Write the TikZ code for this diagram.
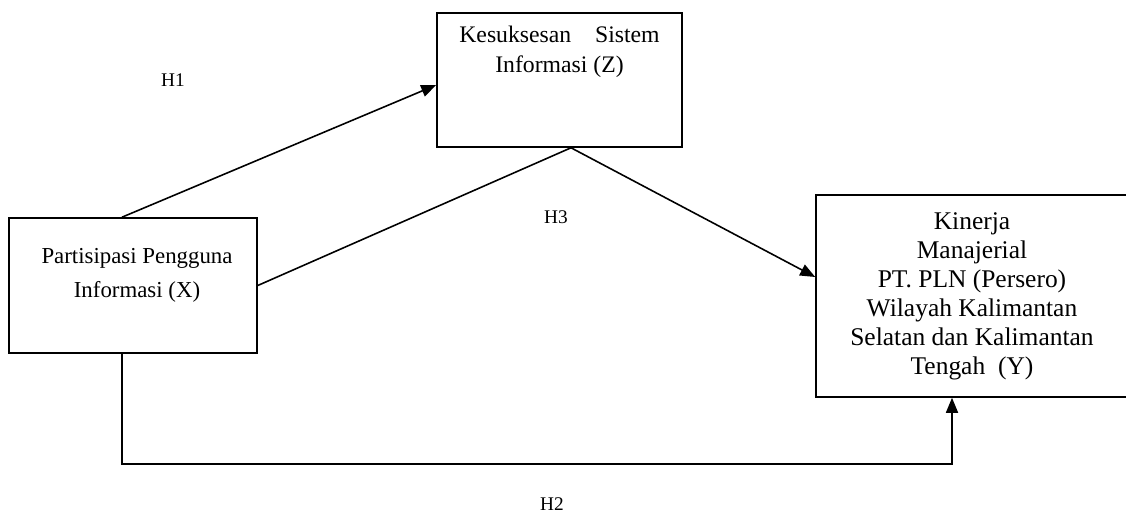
\documentclass[tikz,border=0pt]{standalone}
\usepackage{fontspec}
\setmainfont{Liberation Serif}
\usetikzlibrary{arrows.meta}
\tikzset{
  box/.style={draw, line width=0.9pt, inner sep=0pt},
  txt/.style={align=center, font=\fontsize{13}{17}\selectfont},
  hlab/.style={font=\fontsize{11}{13}\selectfont},
  link/.style={line width=0.9pt},
  arr/.style={link, -{Triangle[length=0.3cm,width=0.24cm]}}
}
\begin{document}
\begin{tikzpicture}
   \useasboundingbox (0,0) rectangle (22.52,10.28);
   \node[box, minimum width=4.9cm, minimum height=2.68cm] (Z) at (11.19,8.68) {};
   \node[box, minimum width=4.96cm, minimum height=2.7cm] (X) at (2.66,4.57) {};
   \node[box, txt, font=\fontsize{14.5}{16.5}\selectfont, minimum width=6.24cm, minimum height=4.04cm] (Y) at (19.44,4.36)
      {Kinerja\\ Manajerial\\ PT. PLN (Persero)\\ Wilayah Kalimantan\\ Selatan dan Kalimantan\\ Tengah\ \ (Y)};

   \node[txt, font=\fontsize{13.5}{17}\selectfont] (Zt) at ([yshift=-0.8cm]Z.north) {Kesuksesan\ \ \ \ Sistem\\ Informasi (Z)};
   \node[txt] (Xt) at ([xshift=0.08cm,yshift=-1.16cm]X.north) {Partisipasi Pengguna\\[2pt] Informasi (X)};

   \coordinate (apex) at ([xshift=0.23cm]Z.south);
   \draw[arr] ([xshift=-0.22cm]X.north) -- ([yshift=-0.1cm]Z.west);
   \draw[link] (X.east) -- (apex);
   \draw[arr] (apex) -- ([yshift=0.38cm]Y.west);
   \draw[arr] ([xshift=-0.22cm]X.south) -- ++(0,-2.2) -| ([xshift=-0.4cm]Y.south);

   \node[hlab] (H1) at (3.46,8.68) {H1};
   \node[hlab] (H3) at (11.12,5.94) {H3};
   \node[hlab] (H2) at (11.04,0.2) {H2};
\end{tikzpicture}
\end{document}
